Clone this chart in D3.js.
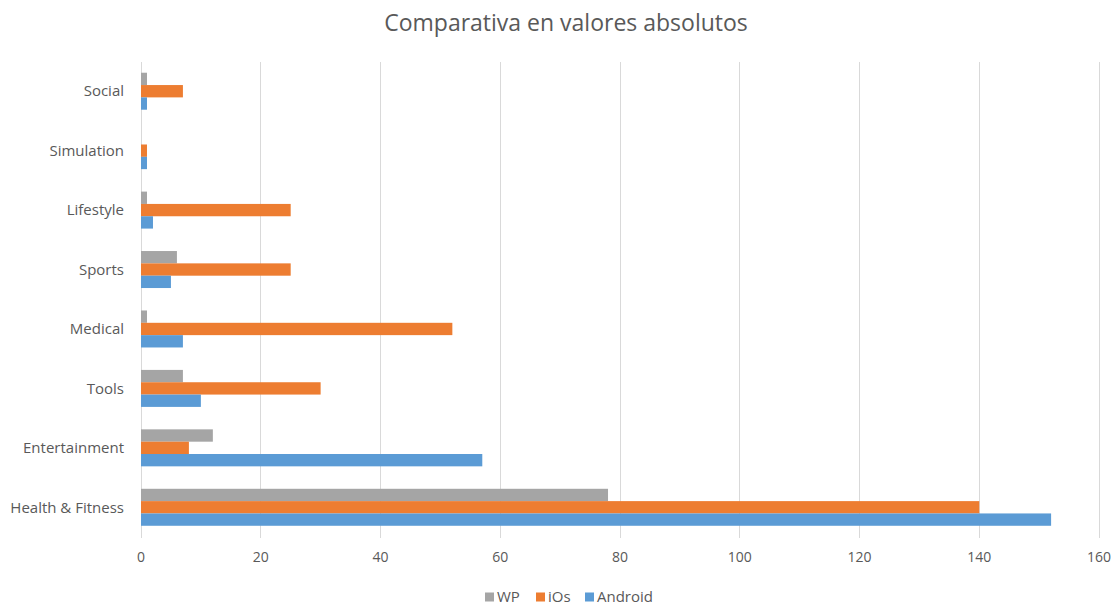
<!DOCTYPE html>
<html><head><meta charset="utf-8">
<script src="https://cdn.jsdelivr.net/npm/d3@7"></script>
<style>body{margin:0;background:#fff}text{font-family:"Open Sans",Carlito,"Liberation Sans",sans-serif}</style>
</head><body><svg id="c" width="1117" height="608"></svg>
<script>
const categories = ["Social","Simulation","Lifestyle","Sports","Medical","Tools","Entertainment","Health & Fitness"];
const seriesNames = ["WP","iOs","Android"];
const wp      = [1, 0, 1, 6, 1, 7, 12, 78];
const ios     = [7, 1, 25, 25, 52, 30, 8, 140];
const android = [1, 1, 2, 5, 7, 10, 57, 152];
const xTicks = [0,20,40,60,80,100,120,140,160];
const colors = ["#A5A5A5","#ED7D31","#5B9BD5"];

const svg = d3.select("#c");
const m = {l:141, r:1099, t:61.5, b:537};
const x = d3.scaleLinear().domain([0,160]).range([m.l, m.r]);
const y = d3.scaleBand().domain(categories).range([m.t, m.b]).paddingInner(0).paddingOuter(0);
// group of 3 bars, gap width 182%
const barH = y.bandwidth()/(3+1.82);
const off = (y.bandwidth()-3*barH)/2;

svg.append("text").attr("x",566).attr("y",31).attr("text-anchor","middle")
  .attr("font-size",23).attr("fill","#595959").text("Comparativa en valores absolutos");

svg.append("g").selectAll("line").data(xTicks).join("line")
  .attr("x1",d=>x(d)).attr("x2",d=>x(d)).attr("y1",m.t).attr("y2",m.b+1)
  .attr("stroke","#D9D9D9").attr("stroke-width",1).attr("shape-rendering","crispEdges");

const data = [wp, ios, android];
data.forEach((vals,si)=>{
  svg.append("g").selectAll("rect").data(categories).join("rect")
    .attr("x",x(0)).attr("y",(c)=>y(c)+off+si*barH)
    .attr("width",(c,i)=>x(vals[i])-x(0)).attr("height",barH)
    .attr("fill",colors[si]);
});

svg.append("g").selectAll("text").data(categories).join("text")
  .attr("x",124).attr("y",c=>y(c)+y.bandwidth()/2).attr("dy","0.35em")
  .attr("text-anchor","end").attr("font-size",15).attr("fill","#595959").text(c=>c);

svg.append("g").selectAll("text").data(xTicks).join("text")
  .attr("x",d=>x(d)).attr("y",557).attr("dy","0.35em").attr("text-anchor","middle")
  .attr("font-size",14).attr("fill","#595959").text(d=>d);

const legX = [485, 536, 585];
const lg = svg.append("g");
seriesNames.forEach((s,i)=>{
  lg.append("rect").attr("x",legX[i]).attr("y",592.5).attr("width",9).attr("height",9).attr("fill",colors[i]);
  lg.append("text").attr("x",legX[i]+12).attr("y",597).attr("dy","0.35em").attr("font-size",15).attr("fill","#595959").text(s);
});
</script></body></html>
